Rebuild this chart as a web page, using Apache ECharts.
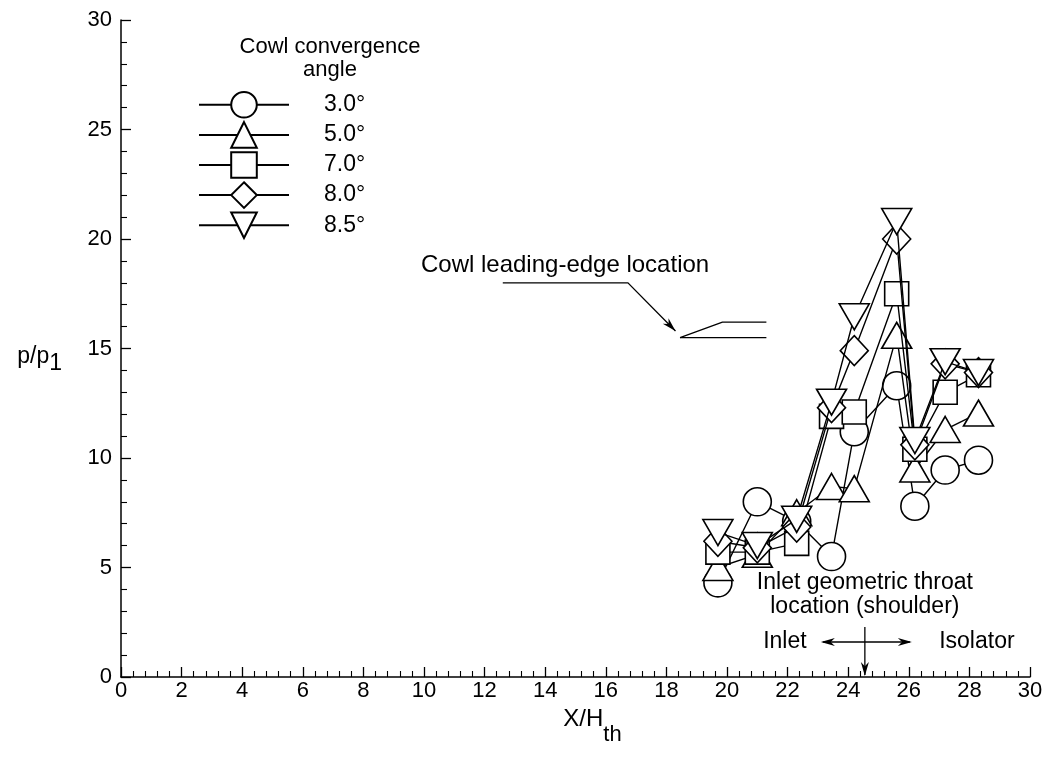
<!DOCTYPE html>
<html>
<head>
<meta charset="utf-8">
<script src="https://cdn.jsdelivr.net/npm/echarts@6/dist/echarts.min.js"></script>
<style>
html,body{margin:0;padding:0;background:#fff;}
#chart{width:1059px;height:758px;}
</style>
</head>
<body>
<div id="chart"></div>
<script>
// ---- data ----
const angles = ['3.0°', '5.0°', '7.0°', '8.0°', '8.5°'];
const xPos = [19.7, 21.0, 22.3, 23.45, 24.2, 25.6, 26.2, 27.2, 28.3];
const p30 = [4.3, 8.0, 7.1, 5.5, 11.2, 13.3, 7.8, 9.45, 9.9];
const p50 = [5.0, 5.6, 7.5, 8.7, 8.6, 15.6, 9.5, 11.3, 12.05];
const p70 = [5.7, 5.7, 6.1, 11.9, 12.1, 17.5, 10.4, 13.0, 13.8];
const p80 = [6.2, 5.9, 6.85, 12.3, 14.9, 20.0, 10.6, 14.3, 13.9];
const p85 = [6.6, 6.0, 7.2, 12.55, 16.45, 20.8, 10.8, 14.4, 13.9];
const xTicks = [0, 30, 2];
const yTicks = [0, 30, 5];

// ---- annotations (data coordinates) ----
const cowlTop = [[18.45, 15.5], [19.85, 16.2], [21.3, 16.2]];
const cowlBottom = [[18.45, 15.5], [21.3, 15.5]];
const leader = [[12.6, 18.0], [16.73, 18.0], [18.3, 15.8]];
const throatX = 24.55;

const FONT = '"Liberation Sans", Arial, Helvetica, sans-serif';
const FS = 22;
const FA = 23;

const seriesVals = [p30, p50, p70, p80, p85];
const symbols = ['circle', 'triangle', 'rect', 'diamond', 'triangle'];
const symSizes = [28, [30, 26], 24, [28, 30], [30, 26]];
const rotates = [0, 0, 0, 0, 180];

const chart = echarts.init(document.getElementById('chart'), null, {renderer: 'canvas'});

const series = angles.map((name, i) => ({
  name: name,
  type: 'line',
  data: xPos.map((x, j) => [x, seriesVals[i][j]]),
  symbol: symbols[i],
  symbolSize: symSizes[i],
  symbolRotate: rotates[i],
  showAllSymbol: true,
  lineStyle: {color: '#000', width: 1.4},
  itemStyle: {color: '#fff', borderColor: '#000', borderWidth: 1.6},
  emphasis: {disabled: true},
  animation: false,
  z: 2 + i
}));

series.push({
  name: 'cowlTop', type: 'line', data: cowlTop, symbol: 'none',
  lineStyle: {color: '#000', width: 1.3}, animation: false, silent: true
});
series.push({
  name: 'cowlBottom', type: 'line', data: cowlBottom, symbol: 'none',
  lineStyle: {color: '#000', width: 1.3}, animation: false, silent: true
});

const option = {
  backgroundColor: '#fff',
  animation: false,
  textStyle: {fontFamily: FONT},
  grid: {left: 121, right: 29, top: 20, bottom: 81, containLabel: false},
  title: {
    text: 'Cowl convergence\nangle',
    left: 325, top: 30, textAlign: 'center',
    textStyle: {fontFamily: FONT, fontSize: 22, fontWeight: 'normal', color: '#000', lineHeight: 23}
  },
  legend: {
    orient: 'vertical', left: 193, top: 86,
    itemWidth: 90, itemHeight: 32, itemGap: 2.5,
    selectedMode: false,
    data: angles,
    textStyle: {fontFamily: FONT, fontSize: FA, color: '#000', padding: [0, 0, 0, 30]}
  },
  xAxis: {
    type: 'value', min: xTicks[0], max: xTicks[1], interval: xTicks[2],
    name: '{b|X/H}{s|th}', nameLocation: 'middle', nameGap: 6,
    nameTextStyle: {padding: [0, 0, 0, 34], rich: {
      b: {fontFamily: FONT, fontSize: 24, color: '#000', padding: [0, 0, 32, 0]},
      s: {fontFamily: FONT, fontSize: 22, color: '#000'}
    }},
    axisLine: {lineStyle: {color: '#000', width: 1.5}},
    axisTick: {inside: true, length: 10, lineStyle: {color: '#000', width: 1.3}},
    minorTick: {show: true, splitNumber: 5, length: 6, lineStyle: {color: '#000', width: 1.1}},
    axisLabel: {fontFamily: FONT, fontSize: FS, color: '#000', margin: 3},
    splitLine: {show: false}
  },
  yAxis: {
    type: 'value', min: yTicks[0], max: yTicks[1], interval: yTicks[2],
    name: '{b|p/p}{s|1}', nameLocation: 'middle', nameGap: 59, nameRotate: 0,
    nameTextStyle: {padding: [16, 0, 0, 0], rich: {
      b: {fontFamily: FONT, fontSize: FA, color: '#000'},
      s: {fontFamily: FONT, fontSize: FA, color: '#000', padding: [14, 0, 0, 0]}
    }},
    axisLine: {lineStyle: {color: '#000', width: 1.5}},
    axisTick: {inside: true, length: 10, lineStyle: {color: '#000', width: 1.3}},
    minorTick: {show: true, splitNumber: 5, length: 6, lineStyle: {color: '#000', width: 1.1}},
    axisLabel: {fontFamily: FONT, fontSize: FS, color: '#000', margin: 9},
    splitLine: {show: false}
  },
  series: series
};

chart.setOption(option);

function px(p) { return chart.convertToPixel({gridIndex: 0}, p); }
function arrowHead(tip, from, len, half) {
  const dx = tip[0] - from[0], dy = tip[1] - from[1];
  const L = Math.sqrt(dx * dx + dy * dy);
  const ux = dx / L, uy = dy / L;
  const bx = tip[0] - ux * len, by = tip[1] - uy * len;
  return {
    type: 'polygon',
    shape: {points: [tip, [bx - uy * half, by + ux * half], [tip[0] - ux * len * 0.7, tip[1] - uy * len * 0.7], [bx + uy * half, by - ux * half]]},
    style: {fill: '#000'}, silent: true
  };
}

const lp = leader.map(px);
const tx = px([throatX, 0])[0];
const axisY = px([0, 0])[1];
const elems = [];
const font = FA + 'px ' + FONT;
// leader line with arrow
elems.push({type: 'polyline', shape: {points: lp}, style: {stroke: '#000', lineWidth: 1.3, fill: null}, silent: true});
elems.push(arrowHead(lp[2], lp[1], 14, 4));
// Cowl text
const ct = px([9.9, 18.8]);
elems.push({type: 'text', x: ct[0], y: ct[1], style: {text: 'Cowl leading-edge location', font: '24px ' + FONT, fill: '#000', textVerticalAlign: 'middle', textAlign: 'left'}, silent: true});
// throat annotation
const hy = axisY - 35;
elems.push({type: 'text', x: tx, y: axisY - 94, style: {text: 'Inlet geometric throat', font: font, fill: '#000', textAlign: 'center', textVerticalAlign: 'middle'}, silent: true});
elems.push({type: 'text', x: tx, y: axisY - 70, style: {text: 'location (shoulder)', font: font, fill: '#000', textAlign: 'center', textVerticalAlign: 'middle'}, silent: true});
elems.push({type: 'text', x: tx - 80, y: hy, style: {text: 'Inlet', font: font, fill: '#000', textAlign: 'center', textVerticalAlign: 'middle'}, silent: true});
elems.push({type: 'text', x: tx + 112, y: hy, style: {text: 'Isolator', font: font, fill: '#000', textAlign: 'center', textVerticalAlign: 'middle'}, silent: true});
elems.push({type: 'line', shape: {x1: tx - 42, y1: hy, x2: tx + 45, y2: hy}, style: {stroke: '#000', lineWidth: 1.3}, silent: true});
elems.push(arrowHead([tx - 44, hy], [tx, hy], 14, 4));
elems.push(arrowHead([tx + 47, hy], [tx, hy], 14, 4));
elems.push({type: 'line', shape: {x1: tx, y1: axisY - 50, x2: tx, y2: axisY - 2}, style: {stroke: '#000', lineWidth: 1.3}, silent: true});
elems.push(arrowHead([tx, axisY - 1], [tx, axisY - 50], 14, 4));

chart.setOption({graphic: {elements: elems}});
</script>
</body>
</html>
